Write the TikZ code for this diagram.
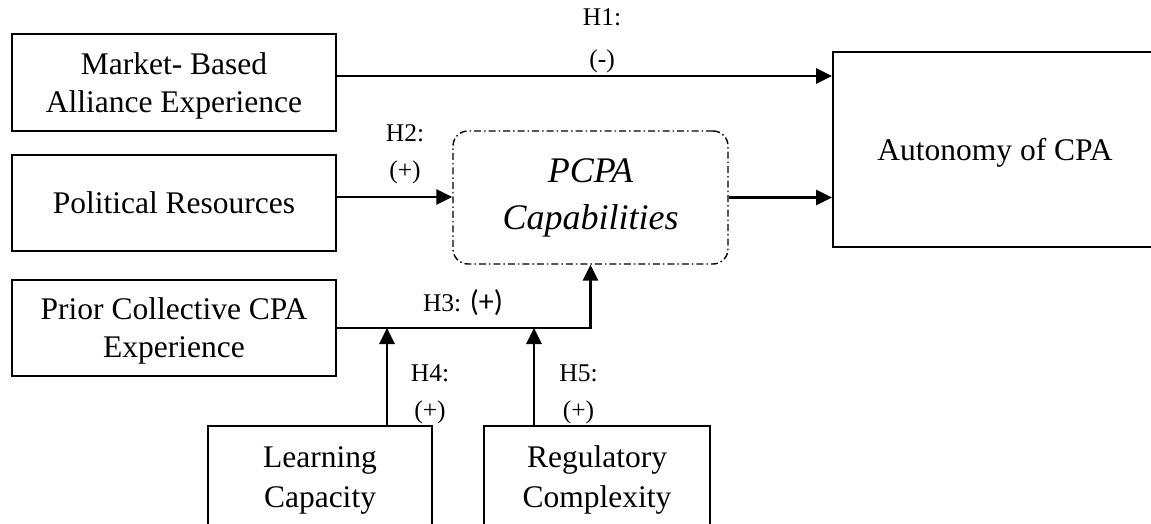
\documentclass[tikz,border=0pt]{standalone}
\usepackage{fontspec}
\setmainfont{Liberation Serif}
\newfontfamily\calfont{Carlito}
\usetikzlibrary{arrows.meta}
\begin{document}
\begin{tikzpicture}[x=1pt,y=-1pt,
  box/.style={draw, line width=2pt, align=center, inner sep=0pt, text depth=0pt,
    font=\fontsize{31.5}{38}\selectfont},
  arr/.style={line width=2.8pt, -{Triangle[length=16pt,width=15pt]}},
  lab/.style={align=center, inner sep=0pt, font=\fontsize{25.5}{37}\selectfont}]
\useasboundingbox (0,0) rectangle (1151,524);
\clip (0,0) rectangle (1151,524);
% boxes
\node[box, minimum width=324pt, minimum height=97pt] (mkt) at (174,82.5) {Market- Based\\Alliance Experience};
\node[box, minimum width=324pt, minimum height=96pt] (pol) at (174,203) {Political Resources};
\node[box, minimum width=324pt, minimum height=96pt] (pri) at (174,328) {Prior Collective CPA\\Experience};
\node[draw, line width=1.4pt, rounded corners=15pt, dash pattern=on 7pt off 3pt on 1.5pt off 3pt,
  align=center, inner sep=0pt, minimum width=275pt, minimum height=133pt,
  font=\itshape\fontsize{36}{47}\selectfont] (pcpa) at (590.5,197.5) {PCPA\\Capabilities};
\node[box, minimum width=324pt, minimum height=195pt] (aut) at (995,149.5) {Autonomy of CPA};
\node[box, minimum width=224pt, minimum height=102pt, font=\fontsize{31.5}{40}\selectfont] (lrn) at (320,477) {Learning\\Capacity};
\node[box, minimum width=226pt, minimum height=102pt, font=\fontsize{31.5}{40}\selectfont] (reg) at (597,477) {Regulatory\\Complexity};
% connectors
\draw[arr] ([yshift=6.5pt]mkt.east) -- ([yshift=6.5pt]mkt.east -| aut.west);
\draw[arr] ([yshift=6pt]pol.east) -- ([yshift=6pt]pol.east -| pcpa.west);
\draw[arr] (pcpa.east) -- (pcpa.east -| aut.west);
\draw[arr] (pri.east) -| (pcpa.south);
\draw[arr] ([xshift=67pt]lrn.north) -- ([xshift=67pt]lrn.north |- pri.east);
\draw[arr] ([xshift=-63pt]reg.north) -- ([xshift=-63pt]reg.north |- pri.east);
% labels
\node[lab, font=\fontsize{25.5}{42}\selectfont] (h1) at (602,41) {H1:\\(-)};
\node[lab] (h2) at (405,154) {H2:\\(+)};
\node[lab] (h3) at (463,303) {H3: {\calfont\fontsize{30}{32}\selectfont(+)}};
\node[lab] (h4) at (430,394) {H4:\\(+)};
\node[lab] (h5) at (578.5,394) {H5:\\(+)};
\end{tikzpicture}
\end{document}
